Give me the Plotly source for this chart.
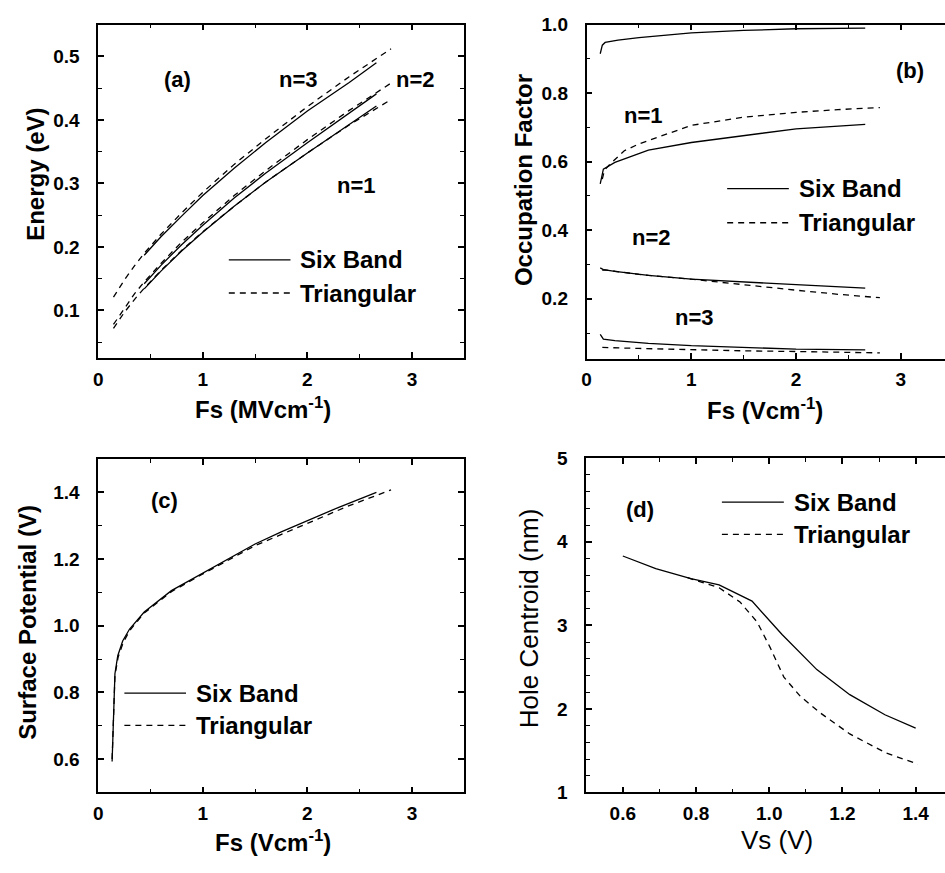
import plotly.graph_objects as go

# ---------------- data ----------------
# (a) subband energies vs surface field
fs_a_six = [0.44, 0.6, 0.8, 1.0, 1.3, 1.6, 2.0, 2.4, 2.66]
e1_six = [0.134, 0.162, 0.194, 0.223, 0.264, 0.302, 0.348, 0.393, 0.422]
e2_six = [0.142, 0.171, 0.204, 0.234, 0.277, 0.316, 0.364, 0.411, 0.441]
e3_six = [0.187, 0.216, 0.249, 0.281, 0.324, 0.364, 0.414, 0.459, 0.490]
fs_a_tri = [0.146, 0.25, 0.35, 0.44, 0.6, 0.8, 1.0, 1.3, 1.6, 2.0, 2.4, 2.8]
e1_tri = [0.072, 0.097, 0.118, 0.135, 0.163, 0.195, 0.224, 0.264, 0.302, 0.348, 0.392, 0.432]
e2_tri = [0.078, 0.104, 0.127, 0.145, 0.174, 0.208, 0.238, 0.281, 0.320, 0.369, 0.415, 0.458]
e3_tri = [0.121, 0.148, 0.171, 0.190, 0.220, 0.254, 0.286, 0.330, 0.370, 0.421, 0.468, 0.512]

# (b) occupation factors
fs_b_top = [0.13, 0.15, 0.177, 0.3, 0.5, 1.0, 1.5, 2.0, 2.66]
occ_top_six = [0.915, 0.94, 0.948, 0.955, 0.962, 0.976, 0.983, 0.988, 0.990]
fs_b_six = [0.13, 0.16, 0.27, 0.59, 1.0, 1.5, 2.0, 2.66]
occ1_six = [0.535, 0.578, 0.598, 0.634, 0.656, 0.677, 0.696, 0.709]
occ2_six = [0.290, 0.285, 0.280, 0.268, 0.257, 0.248, 0.241, 0.231]
occ3_six = [0.096, 0.082, 0.078, 0.070, 0.063, 0.057, 0.053, 0.051]
fs_b_tri = [0.15, 0.17, 0.23, 0.36, 0.5, 1.0, 1.5, 2.0, 2.4, 2.8]
occ1_tri = [0.549, 0.575, 0.595, 0.632, 0.652, 0.706, 0.730, 0.744, 0.752, 0.758]
occ2_tri = [0.283, 0.284, 0.282, 0.276, 0.271, 0.257, 0.240, 0.225, 0.213, 0.203]
occ3_tri = [0.058, 0.058, 0.057, 0.056, 0.055, 0.051, 0.048, 0.046, 0.044, 0.042]

# (c) surface potential vs surface field
fs_c_six = [0.133, 0.16, 0.187, 0.234, 0.3, 0.44, 0.7, 1.0, 1.25, 1.5, 1.75, 2.0, 2.3, 2.66]
vs_c_six = [0.593, 0.856, 0.910, 0.954, 0.990, 1.041, 1.105, 1.158, 1.203, 1.245, 1.281,
            1.315, 1.355, 1.400]
fs_c_tri = [0.133, 0.16, 0.19, 0.24, 0.3, 0.44, 0.7, 1.0, 1.5, 2.0, 2.4, 2.8]
vs_c_tri = [0.600, 0.850, 0.905, 0.950, 0.985, 1.038, 1.102, 1.155, 1.240, 1.308, 1.360, 1.407]

# (d) hole centroid vs surface potential
vs_d_six = [0.6, 0.69, 0.786, 0.863, 0.953, 1.035, 1.13, 1.22, 1.316, 1.4]
zc_six = [3.83, 3.68, 3.56, 3.485, 3.29, 2.89, 2.47, 2.17, 1.93, 1.77]
vs_d_tri = [0.777, 0.863, 0.92, 0.967, 1.003, 1.04, 1.085, 1.14, 1.22, 1.32, 1.406]
zc_tri = [3.57, 3.45, 3.28, 3.04, 2.73, 2.38, 2.15, 1.95, 1.70, 1.47, 1.34]

series_names = ["Six Band", "Triangular"]

# ---------------- styling helpers ----------------
W, H = 945, 873
FONT = "Liberation Sans, Arial, sans-serif"
BLACK = "black"
DASH = "6px,5px"


def fx(p):
    return p / W


def fy(p):
    return 1 - p / H


def axis(domain, rng, dtick, minor_dtick, fmt, mirror, anchor, standoff, tick0=None):
    a = dict(
        domain=domain, range=rng, anchor=anchor,
        showline=True, linecolor=BLACK, linewidth=1.7, mirror=mirror,
        ticks="inside", ticklen=6, tickwidth=1.5, tickcolor=BLACK,
        showgrid=False, zeroline=False, dtick=dtick, tickformat=fmt,
        tickfont=dict(family=FONT, size=19, color=BLACK, weight="bold"),
        minor=dict(ticks="inside", ticklen=4, tickwidth=1.2, tickcolor=BLACK,
                   dtick=minor_dtick, showgrid=False),
        ticklabelstandoff=standoff,
    )
    if tick0 is not None:
        a["tick0"] = tick0
        a["minor"]["tick0"] = tick0
    return a


fig = go.Figure()


def line(x, y, xa, ya, dashed):
    fig.add_trace(go.Scatter(
        x=x, y=y, xaxis=xa, yaxis=ya, mode="lines", showlegend=False,
        line=dict(color=BLACK, width=1.3, dash=DASH if dashed else "solid"),
        hoverinfo="skip",
    ))


# (a)
for ys in (e1_six, e2_six, e3_six):
    line(fs_a_six, ys, "x", "y", False)
for ys in (e1_tri, e2_tri, e3_tri):
    line(fs_a_tri, ys, "x", "y", True)
# (b)
line(fs_b_top, occ_top_six, "x2", "y2", False)
for ys in (occ1_six, occ2_six, occ3_six):
    line(fs_b_six, ys, "x2", "y2", False)
for ys in (occ1_tri, occ2_tri, occ3_tri):
    line(fs_b_tri, ys, "x2", "y2", True)
# (c)
line(fs_c_six, vs_c_six, "x3", "y3", False)
line(fs_c_tri, vs_c_tri, "x3", "y3", True)
# (d)
line(vs_d_six, zc_six, "x4", "y4", False)
line(vs_d_tri, zc_tri, "x4", "y4", True)

left_dom = [fx(93.7), fx(461.7)]
right_dom_b = [fx(584.7), 1.0]
right_dom_d = [fx(584.3), 1.0]
top_dom = [fy(356.7), fy(15)]
top_dom_b = [fy(357.3), fy(15)]
bot_dom = [fy(801.7), fy(460)]
bot_dom_d = [fy(801.7), fy(459.3)]

XS, YS = 3, 13
fig.update_layout(
    width=W, height=H, margin=dict(l=0, r=0, t=0, b=0),
    paper_bgcolor="white", plot_bgcolor="white", showlegend=False,
    xaxis=axis(left_dom, [0, 3.5], 1, 0.5, "d", "ticks", "y", XS),
    yaxis=axis(top_dom, [0.025, 0.55], 0.1, 0.05, ".1f", "ticks", "x", YS, tick0=0),
    xaxis2=axis(right_dom_b, [0, (W - 584.7) / 105.3], 1, 0.5, "d", "ticks", "y2", XS),
    yaxis2=axis(top_dom_b, [0.025, 1.0], 0.2, 0.1, ".1f", False, "x2", YS, tick0=0),
    xaxis3=axis(left_dom, [0, 3.5], 1, 0.5, "d", "ticks", "y3", XS),
    yaxis3=axis(bot_dom, [0.5, 1.5], 0.2, 0.1, ".1f", "ticks", "x3", YS, tick0=0),
    xaxis4=axis(right_dom_d, [0.5, 0.5 + (W - 584.3) / 368.0], 0.2, 0.1, ".1f", "ticks",
                "y4", XS, tick0=0),
    yaxis4=axis(bot_dom_d, [1, 5], 1, 0.2, "d", False, "x4", YS, tick0=0),
)

bold = dict(family=FONT, size=22, color=BLACK, weight="bold")
bold_title = dict(family=FONT, size=24, color=BLACK, weight="bold")
regular_title = dict(family=FONT, size=26, color=BLACK)
legend_font = dict(family=FONT, size=24, color=BLACK, weight="bold")

ann = []


def text(x, y, s, font, xref="paper", yref="paper", angle=0, xanchor="center"):
    ann.append(dict(x=x, y=y, text=s, xref=xref, yref=yref, showarrow=False,
                    font=font, textangle=angle, xanchor=xanchor, yanchor="middle"))


# panel and curve labels
text(0.754, 0.463, "(a)", bold, "x", "y")
text(1.914, 0.463, "n=3", bold, "x", "y")
text(3.035, 0.463, "n=2", bold, "x", "y")
text(2.465, 0.297, "n=1", bold, "x", "y")
text(3.09, 0.866, "(b)", bold, "x2", "y2")
text(0.541, 0.735, "n=1", bold, "x2", "y2")
text(0.62, 0.379, "n=2", bold, "x2", "y2")
text(1.026, 0.145, "n=3", bold, "x2", "y2")
text(0.63, 1.374, "(c)", bold, "x3", "y3")
text(0.646, 4.39, "(d)", bold, "x4", "y4")

# axis titles
text(fx(31), fy(168), "Energy (eV)", bold_title, angle=-90)
text(fx(259), fy(408), "Fs (MVcm<sup>-1</sup>)", bold_title)
text(fx(522), fy(174), "Occupation Factor", bold_title, angle=-90)
text(fx(764), fy(409), "Fs (Vcm<sup>-1</sup>)", bold_title)
text(fx(23), fy(627), "Surface Potential (V)", bold_title, angle=-90)
text(fx(269), fy(851), "Fs (Vcm<sup>-1</sup>)", bold_title)
text(fx(527), fy(623), "Hole Centroid (nm)", regular_title, angle=-90)
text(fx(776), fy(850), "Vs (V)", regular_title)

# legend keys: (line start px, line end px, text start px, solid row y px, dashed row y px)
legend_rows = [
    (225, 287, 295, 256, 290),
    (726, 788, 796.7, 183, 218),
    (120, 182, 190, 700, 733),
    (720.7, 783, 790.7, 504.3, 537.3),
]
shapes = []
for x0, x1, xt, ys, yd in legend_rows:
    for name, yy, dashed in ((series_names[0], ys, False), (series_names[1], yd, True)):
        shapes.append(dict(type="line", xref="paper", yref="paper",
                           x0=fx(x0), x1=fx(x1), y0=fy(yy), y1=fy(yy),
                           line=dict(color=BLACK, width=1.3, dash=DASH if dashed else "solid")))
        text(fx(xt), fy(yy), name, legend_font, xanchor="left")

fig.update_layout(annotations=ann, shapes=shapes)
fig.write_html("out.html")
